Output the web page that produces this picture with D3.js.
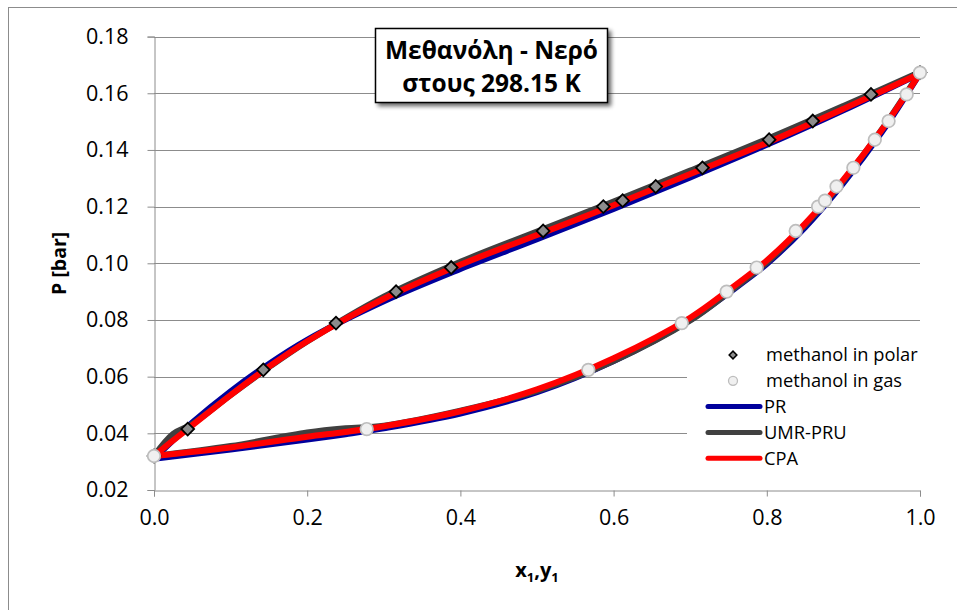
<!DOCTYPE html>
<html>
<head>
<meta charset="utf-8">
<script src="https://cdn.jsdelivr.net/npm/d3@7"></script>
<style>
  html, body { margin: 0; padding: 0; background: #fff; }
  svg { display: block; }
  text { font-family: "Open Sans", "DejaVu Sans", sans-serif; fill: #000; }
</style>
</head>
<body>
<svg id="chart" width="957" height="610"></svg>
<script>
// ---- Data ----
const xTicks = [0.0, 0.2, 0.4, 0.6, 0.8, 1.0];
const yTicks = [0.02, 0.04, 0.06, 0.08, 0.10, 0.12, 0.14, 0.16, 0.18];

// experimental
const expP     = [0.0320, 0.0415, 0.0624, 0.0789, 0.0900, 0.0985, 0.1114, 0.1200, 0.1221, 0.1271, 0.1337, 0.1436, 0.1502, 0.1596, 0.1673];
const polarX   = [0.000, 0.044, 0.1427, 0.2376, 0.316, 0.388, 0.508, 0.5866, 0.6118, 0.655, 0.716, 0.803, 0.860, 0.936, 1.000];
const gasY     = [0.000, 0.2777, 0.567, 0.689, 0.7476, 0.7868, 0.8377, 0.867, 0.876, 0.891, 0.913, 0.941, 0.959, 0.9826, 1.000];

// model bubble curves (P vs x1)
const bubbleX     = [0, 0.025, 0.05, 0.1, 0.15, 0.2, 0.3, 0.4, 0.5, 0.6, 0.7, 0.8, 0.9, 1.0];
const prBubbleP   = [0.0310, 0.0375, 0.0438, 0.0548, 0.0645, 0.0730, 0.0866, 0.0980, 0.1085, 0.1192, 0.1303, 0.1418, 0.1540, 0.1670];
const umrBubbleP  = [0.0320, 0.0398, 0.0433, 0.0535, 0.0633, 0.0724, 0.0882, 0.1005, 0.1112, 0.1218, 0.1327, 0.1438, 0.1555, 0.1675];
const cpaBubbleP  = [0.0320, 0.0375, 0.0428, 0.0535, 0.0635, 0.0725, 0.0875, 0.0995, 0.1100, 0.1205, 0.1315, 0.1425, 0.1545, 0.1670];

// model dew curves (P vs y1)
const dewY        = [0, 0.1, 0.2, 0.25, 0.3, 0.4, 0.5, 0.6, 0.7, 0.75, 0.8, 0.85, 0.9, 0.95, 1.0];
const prDewP      = [0.0310, 0.0343, 0.0378, 0.0397, 0.0418, 0.0470, 0.0545, 0.0655, 0.0800, 0.0895, 0.0998, 0.1127, 0.1283, 0.1462, 0.1670];
const umrDewP     = [0.0320, 0.0355, 0.0403, 0.0418, 0.0427, 0.0480, 0.0550, 0.0655, 0.0798, 0.0897, 0.1003, 0.1135, 0.1292, 0.1472, 0.1675];
const cpaDewP     = [0.0320, 0.0350, 0.0388, 0.0405, 0.0425, 0.0478, 0.0555, 0.0665, 0.0808, 0.0905, 0.1010, 0.1140, 0.1295, 0.1470, 0.1670];

const models = [
  { name: "PR",      color: "#00009c", bubble: prBubbleP,  dew: prDewP },
  { name: "UMR-PRU", color: "#404040", bubble: umrBubbleP, dew: umrDewP },
  { name: "CPA",     color: "#ff0000", bubble: cpaBubbleP, dew: cpaDewP }
];

// ---- Layout ----
const svg = d3.select("#chart");
const L = 154, R = 920, T = 36.6, B = 490;
const x = d3.scaleLinear().domain([0, 1]).range([L, R]);
const y = d3.scaleLinear().domain([0.02, 0.18]).range([B, T]);
const gridColor = "#8c8c8c";

// outer chart border
svg.append("rect").attr("x", 8.5).attr("y", 7.5).attr("width", 960).attr("height", 620)
  .attr("fill", "#fff").attr("stroke", gridColor).attr("stroke-width", 1);

// defs
const defs = svg.append("defs");
const f = defs.append("filter").attr("id", "shadow").attr("x", "-20%").attr("y", "-20%").attr("width", "140%").attr("height", "150%");
f.append("feGaussianBlur").attr("in", "SourceAlpha").attr("stdDeviation", 2).attr("result", "b");
f.append("feOffset").attr("in", "b").attr("dx", 3).attr("dy", 3).attr("result", "o");
f.append("feComponentTransfer").attr("in", "o").attr("result", "o2")
  .append("feFuncA").attr("type", "linear").attr("slope", 0.6);
const fm = f.append("feMerge");
fm.append("feMergeNode").attr("in", "o2");
fm.append("feMergeNode").attr("in", "SourceGraphic");

// gridlines
svg.append("g").selectAll("line").data(yTicks.slice(1)).join("line")
  .attr("x1", L).attr("x2", R)
  .attr("y1", d => Math.round(y(d)) + 0.5).attr("y2", d => Math.round(y(d)) + 0.5)
  .attr("stroke", gridColor).attr("stroke-width", 1);

// axes
const yAxis = d3.axisLeft(y).tickValues(yTicks).tickFormat(d3.format(".2f")).tickSize(7).tickPadding(19);
const gy = svg.append("g").attr("transform", `translate(${L + 0.5},0)`).call(yAxis);
const xAxis = d3.axisBottom(x).tickValues(xTicks).tickFormat(d3.format(".1f")).tickSize(6).tickPadding(13);
const gx = svg.append("g").attr("transform", `translate(0,${Math.round(B) + 0.5})`).call(xAxis);
[gx, gy].forEach(g => {
  g.select(".domain").attr("stroke", gridColor);
  g.selectAll(".tick line").attr("stroke", gridColor);
  g.selectAll(".tick text").style("font-size", "21.5px").style("font-family", '"Open Sans", sans-serif').attr("fill", "#000");
});

// axis titles
svg.append("text").attr("transform", `translate(66,${(T + B) / 2}) rotate(-90)`)
  .attr("text-anchor", "middle").style("font-size", "19.5px").style("font-weight", "bold").text("P [bar]");
const xt = svg.append("text").attr("x", (L + R) / 2).attr("y", 577)
  .attr("text-anchor", "middle").style("font-size", "20px").style("font-weight", "bold");
xt.append("tspan").text("x");
xt.append("tspan").attr("dy", 5).style("font-size", "13px").text("1");
xt.append("tspan").attr("dy", -5).text(",y");
xt.append("tspan").attr("dy", 5).style("font-size", "13px").text("1");

// legend background (covers gridlines)
svg.append("rect").attr("x", 687).attr("y", 339).attr("width", 236).attr("height", 134).attr("fill", "#fff");

// model lines
const line = d3.line().x(d => x(d[0])).y(d => y(d[1])).curve(d3.curveCatmullRom);
const gl = svg.append("g");
models.forEach(m => {
  const bub = bubbleX.map((v, i) => [v, m.bubble[i]]);
  const dew = dewY.map((v, i) => [v, m.dew[i]]);
  [bub, dew].forEach(pts => {
    gl.append("path").attr("d", line(pts)).attr("fill", "none")
      .attr("stroke", m.color).attr("stroke-width", 6)
      .attr("stroke-linecap", "round").attr("stroke-linejoin", "round");
  });
});

// experimental markers
svg.append("g").selectAll("path").data(polarX.map((v, i) => [v, expP[i]])).join("path")
  .attr("d", d3.symbol().type(d3.symbolSquare).size(82)())
  .attr("transform", d => `translate(${x(d[0])},${y(d[1])}) rotate(45)`)
  .attr("fill", "#8c8c8c").attr("stroke", "#000").attr("stroke-width", 1.8);
svg.append("g").selectAll("circle").data(gasY.map((v, i) => [v, expP[i]])).join("circle")
  .attr("cx", d => x(d[0])).attr("cy", d => y(d[1])).attr("r", 6.3)
  .attr("fill", "#f0f0f0").attr("stroke", "#bdbdbd").attr("stroke-width", 1.7);

// legend
const lg = svg.append("g");
const lx = 733, ltx = 766, ly0 = 355, ldy = 25.8;
const legendItems = [
  { label: "methanol in polar", type: "diamond" },
  { label: "methanol in gas", type: "circle" },
  { label: "PR", type: "line", color: models[0].color },
  { label: "UMR-PRU", type: "line", color: models[1].color },
  { label: "CPA", type: "line", color: models[2].color }
];
legendItems.forEach((it, i) => {
  const cy = ly0 + i * ldy;
  if (it.type === "diamond") {
    lg.append("path").attr("d", d3.symbol().type(d3.symbolSquare).size(30)())
      .attr("transform", `translate(${lx},${cy}) rotate(45)`)
      .attr("fill", "#8c8c8c").attr("stroke", "#000").attr("stroke-width", 1.5);
  } else if (it.type === "circle") {
    lg.append("circle").attr("cx", lx).attr("cy", cy).attr("r", 4.5)
      .attr("fill", "#f0f0f0").attr("stroke", "#bdbdbd").attr("stroke-width", 1.3);
  } else {
    lg.append("line").attr("x1", 708).attr("x2", 760).attr("y1", cy).attr("y2", cy)
      .attr("stroke", it.color).attr("stroke-width", 5).attr("stroke-linecap", "round");
  }
  lg.append("text").attr("x", it.type === "line" ? 764 : ltx).attr("y", cy).attr("dy", "0.35em")
    .style("font-size", "18.3px").text(it.label);
});

// title box
const tb = svg.append("g");
tb.append("rect").attr("x", 375.5).attr("y", 28.5).attr("width", 232).attr("height", 74)
  .attr("fill", "#fff").attr("stroke", "#000").attr("stroke-width", 1.5).attr("filter", "url(#shadow)");
tb.append("text").attr("x", 491.5).attr("y", 59).attr("text-anchor", "middle")
  .style("font-size", "24.5px").style("font-weight", "bold").text("Μεθανόλη - Νερό");
tb.append("text").attr("x", 491.5).attr("y", 92).attr("text-anchor", "middle")
  .style("font-size", "24.5px").style("font-weight", "bold").text("στους 298.15 K");
</script>
</body>
</html>
